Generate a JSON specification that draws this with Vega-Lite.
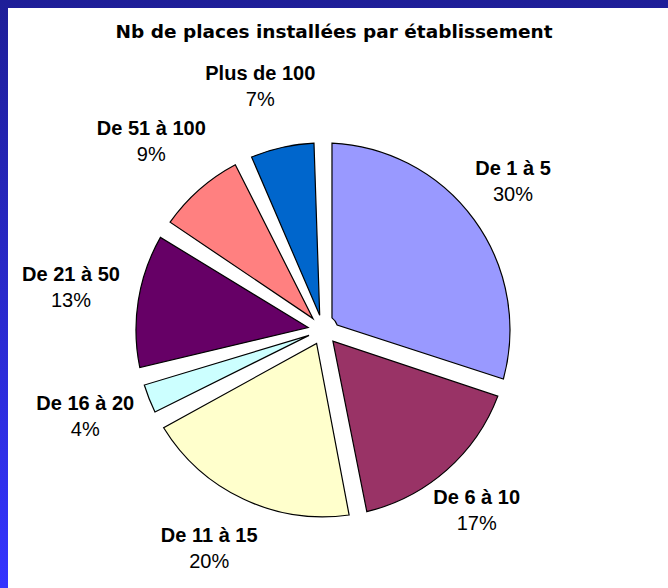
{
  "$schema": "https://vega.github.io/schema/vega-lite/v6.json",
  "width": 668,
  "height": 588,
  "autosize": {"type": "none"},
  "padding": 0,
  "background": "#ffffff",
  "view": {
    "fill": "#ffffff",
    "stroke": {
      "gradient": "linear",
      "x1": 0, "y1": 0, "x2": 0, "y2": 1,
      "stops": [
        {"offset": 0, "color": "#1e1e98"},
        {"offset": 1, "color": "#3434ff"}
      ]
    },
    "strokeWidth": 16,
    "strokeDash": [668, 1256, 588]
  },
  "title": {
    "text": "Nb de places installées par établissement",
    "font": "DejaVu Sans",
    "fontSize": 18.5,
    "fontWeight": "bold",
    "color": "#000000",
    "anchor": "middle",
    "frame": "group",
    "offset": -56,
    "baseline": "alphabetic"
  },
  "data": {
    "values": [
      {"i": 1, "cat": "De 1 à 5", "share": 0.30},
      {"i": 2, "cat": "De 6 à 10", "share": 0.17},
      {"i": 3, "cat": "De 11 à 15", "share": 0.20},
      {"i": 4, "cat": "De 16 à 20", "share": 0.04},
      {"i": 5, "cat": "De 21 à 50", "share": 0.13},
      {"i": 6, "cat": "De 51 à 100", "share": 0.09},
      {"i": 7, "cat": "Plus de 100", "share": 0.07}
    ]
  },
  "encoding": {
    "theta": {"field": "share", "type": "quantitative", "stack": true},
    "order": {"field": "i", "type": "quantitative"}
  },
  "layer": [
    {
      "mark": {
        "type": "arc",
        "outerRadius": 187,
        "innerRadius": 15,
        "padAngle": 0.096,
        "stroke": "#000000",
        "strokeWidth": 1.2,
        "x": {"expr": "width*0.4835"},
        "y": {"expr": "height*0.561"}
      },
      "encoding": {
        "color": {
          "field": "cat",
          "type": "nominal",
          "scale": {
            "domain": ["De 1 à 5", "De 6 à 10", "De 11 à 15", "De 16 à 20", "De 21 à 50", "De 51 à 100", "Plus de 100"],
            "range": ["#9999ff", "#993366", "#ffffcc", "#ccffff", "#660066", "#ff8080", "#0066cc"]
          },
          "legend": null
        }
      }
    },
    {
      "mark": {
        "type": "text",
        "radius": 246,
        "dx": -9,
        "dy": -16,
        "font": "Liberation Sans",
        "fontSize": 20,
        "fontWeight": "bold",
        "color": "#000000",
        "align": "center",
        "baseline": "middle",
        "x": {"expr": "width*0.4835"},
        "y": {"expr": "height*0.561"}
      },
      "encoding": {"text": {"field": "cat", "type": "nominal"}}
    },
    {
      "mark": {
        "type": "text",
        "radius": 246,
        "dx": -9,
        "dy": 10,
        "font": "Liberation Sans",
        "fontSize": 20,
        "color": "#000000",
        "align": "center",
        "baseline": "middle",
        "x": {"expr": "width*0.4835"},
        "y": {"expr": "height*0.561"}
      },
      "encoding": {"text": {"field": "share", "type": "quantitative", "format": ".0%"}}
    }
  ]
}
